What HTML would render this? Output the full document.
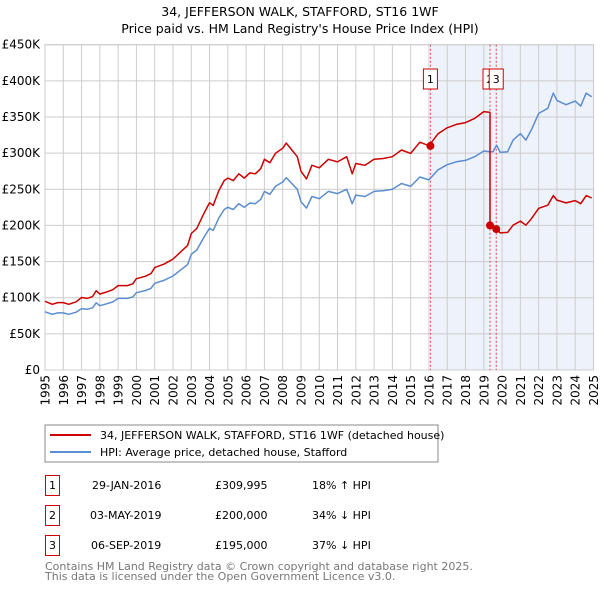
<!DOCTYPE html>
<html><head><meta charset="utf-8"><style>
body{margin:0;background:#fff;font-family:"DejaVu Sans","Liberation Sans",sans-serif;}
#wrap{position:relative;width:600px;height:590px;overflow:hidden;}
</style></head><body>
<div id="wrap">
<svg id="chart" width="600" height="590" xmlns="http://www.w3.org/2000/svg" font-family="DejaVu Sans, Liberation Sans, sans-serif">
<text x="300" y="16" text-anchor="middle" font-size="12.5">34, JEFFERSON WALK, STAFFORD, ST16 1WF</text>
<text x="300" y="33" text-anchor="middle" font-size="12.5">Price paid vs. HM Land Registry's House Price Index (HPI)</text>
<g id="grid"></g><g id="marks"></g><g id="axes"></g>
<rect x="45" y="425" width="393" height="37" fill="#fff" stroke="#888"/>
<line x1="50" y1="435" x2="91" y2="435" stroke="#cc0000" stroke-width="2"/>
<text x="100" y="439" font-size="11">34, JEFFERSON WALK, STAFFORD, ST16 1WF (detached house)</text>
<line x1="50" y1="452" x2="91" y2="452" stroke="#5b8dd0" stroke-width="2"/>
<text x="100" y="456" font-size="11">HPI: Average price, detached house, Stafford</text>
<g font-size="11">
<rect x="45.5" y="475.5" width="14" height="20" fill="#fff" stroke="#cc0000"/>
<text x="52.5" y="489" text-anchor="middle">1</text>
<text x="92" y="489">29-JAN-2016</text>
<text x="215" y="489">£309,995</text>
<text x="312" y="489">18% ↑ HPI</text>
<rect x="45.5" y="505.5" width="14" height="20" fill="#fff" stroke="#cc0000"/>
<text x="52.5" y="519" text-anchor="middle">2</text>
<text x="90" y="519">03-MAY-2019</text>
<text x="215" y="519">£200,000</text>
<text x="312" y="519">34% ↓ HPI</text>
<rect x="45.5" y="535.5" width="14" height="20" fill="#fff" stroke="#cc0000"/>
<text x="52.5" y="549" text-anchor="middle">3</text>
<text x="91" y="549">06-SEP-2019</text>
<text x="215" y="549">£195,000</text>
<text x="312" y="549">37% ↓ HPI</text>
</g>
<text x="45" y="570" font-size="11" fill="#777">Contains HM Land Registry data © Crown copyright and database right 2025.</text>
<text x="45" y="580" font-size="11" fill="#777">This data is licensed under the Open Government Licence v3.0.</text>
</svg>
</div>
<script>
const hpiYears=[1995.0,1995.4,1995.7,1996.0,1996.3,1996.7,1997.0,1997.3,1997.6,1997.8,1998.0,1998.3,1998.7,1999.0,1999.5,1999.8,2000.0,2000.5,2000.8,2001.0,2001.5,2002.0,2002.5,2002.8,2003.0,2003.3,2003.7,2004.0,2004.2,2004.5,2004.8,2005.0,2005.3,2005.6,2005.9,2006.2,2006.5,2006.8,2007.0,2007.3,2007.6,2008.0,2008.2,2008.5,2008.8,2009.0,2009.3,2009.6,2010.0,2010.5,2011.0,2011.5,2011.8,2012.0,2012.5,2013.0,2013.5,2014.0,2014.5,2015.0,2015.5,2016.0,2016.5,2017.0,2017.5,2018.0,2018.5,2019.0,2019.34,2019.5,2019.7,2019.9,2020.3,2020.6,2021.0,2021.3,2021.6,2022.0,2022.5,2022.8,2023.0,2023.5,2024.0,2024.3,2024.6,2024.9];
const hpiValues=[80.5,77,79,79,77,80,85,84,86,93,89,91,94,99,99,101,107,110,113,120,124,130,140,146,160,166,184,196,193,210,222,225,222,230,225,231,230,236,247,243,254,260,266,258,250,233,224,240,237,247,244,250,230,242,240,247,248,250,258,254,267,263,277,284,288,290,295,303,302,302,311,301,302,318,327,318,332,355,362,383,373,367,372,365,383,378];
const redYears=[1995.0,1995.4,1995.7,1996.0,1996.3,1996.7,1997.0,1997.3,1997.6,1997.8,1998.0,1998.3,1998.7,1999.0,1999.5,1999.8,2000.0,2000.5,2000.8,2001.0,2001.5,2002.0,2002.5,2002.8,2003.0,2003.3,2003.7,2004.0,2004.2,2004.5,2004.8,2005.0,2005.3,2005.6,2005.9,2006.2,2006.5,2006.8,2007.0,2007.3,2007.6,2008.0,2008.2,2008.5,2008.8,2009.0,2009.3,2009.6,2010.0,2010.5,2011.0,2011.5,2011.8,2012.0,2012.5,2013.0,2013.5,2014.0,2014.5,2015.0,2015.5,2016.0,2016.5,2017.0,2017.5,2018.0,2018.5,2019.0,2019.34,2019.34,2019.5,2019.68,2019.9,2020.3,2020.6,2021.0,2021.3,2021.6,2022.0,2022.5,2022.8,2023.0,2023.5,2024.0,2024.3,2024.6,2024.9];
const redValues=[95,90.9,93.2,93.2,90.9,94.4,100.3,99.1,101.5,109.7,105,107.4,110.9,116.8,116.8,119.2,126.3,129.8,133.3,141.6,146.3,153.4,165.2,172.3,188.8,195.9,217.1,231.3,227.7,247.8,262,265.5,262,271.4,265.5,272.6,271.4,278.5,291.5,286.7,299.7,306.8,313.9,304.4,295,274.9,264.3,283.2,279.7,291.5,287.9,295,271.4,285.6,283.2,291.5,292.6,295,304.4,299.7,315.1,310.3,326.9,335.1,339.8,342.2,348.1,357.5,356.4,200,198,195,189.6,190.3,200.3,206,200.3,209.2,223.7,228,241.3,235,231.2,234.4,230,241.3,238];
const saleYears=[2016.08,2019.34,2019.68];
const saleValues=[309.995,200,195];
const saleLabels=["1","2","3"];
const yTicks=[0,50,100,150,200,250,300,350,400,450];
const yTickLabels=["£0","£50K","£100K","£150K","£200K","£250K","£300K","£350K","£400K","£450K"];
const xTicks=[1995,1996,1997,1998,1999,2000,2001,2002,2003,2004,2005,2006,2007,2008,2009,2010,2011,2012,2013,2014,2015,2016,2017,2018,2019,2020,2021,2022,2023,2024,2025];

const L=45,R=593.5,T=44.7,B=370;
const X=y=>L+(y-1995)/30*(R-L);
const Y=v=>B-v/450*(B-T);
const NS="http://www.w3.org/2000/svg";
function mk(parent,tag,attrs){const e=document.createElementNS(NS,tag);for(const k in attrs)e.setAttribute(k,attrs[k]);parent.appendChild(e);return e;}
const grid=document.getElementById('grid'),marks=document.getElementById('marks'),axes=document.getElementById('axes');

const shade=mk(grid,'rect',{x:X(saleYears[0]),y:T,width:R-X(saleYears[0]),height:B-T,fill:'#eef2fb'});


yTicks.forEach((v,i)=>{
  const g=mk(grid,'line',{x1:L,x2:R,y1:Y(v),y2:Y(v),stroke:'#cccccc','stroke-width':1});
  
  
  const t=mk(axes,'text',{x:L-5,y:Y(v)+4,'text-anchor':'end','font-size':12});
  t.textContent=yTickLabels[i];
  
  
});
xTicks.forEach(yr=>{
  const g=mk(grid,'line',{x1:X(yr),x2:X(yr),y1:T,y2:B,stroke:'#cccccc','stroke-width':1});
  
  
  const t=mk(axes,'text',{x:0,y:0,'text-anchor':'end','font-size':12,transform:`translate(${X(yr)+4.5},${B+5}) rotate(-90)`});
  t.textContent=yr;
  
  
});
const frame=mk(grid,'rect',{x:L,y:T,width:R-L,height:B-T,fill:'none',stroke:'#cccccc'});



saleYears.forEach((yr,i)=>{
  const l=mk(marks,'line',{x1:X(yr),x2:X(yr),y1:T,y2:B,stroke:'#ee4444','stroke-width':1,'stroke-dasharray':'2,2'});
  
  
});

const pts=(xs,vs)=>xs.map((x,i)=>X(x).toFixed(1)+','+Y(vs[i]).toFixed(1)).join(' ');
const hp=mk(marks,'polyline',{points:pts(hpiYears,hpiValues),fill:'none',stroke:'#5b8dd0','stroke-width':1.5,'stroke-linejoin':'round'});


const rp=mk(marks,'polyline',{points:pts(redYears,redValues),fill:'none',stroke:'#cc0000','stroke-width':1.5,'stroke-linejoin':'round'});



saleYears.forEach((yr,i)=>{
  const c=mk(marks,'circle',{cx:X(yr),cy:Y(saleValues[i]),r:4,fill:'#cc0000'});
  
  
  const bx=X(yr)-7;
  const r=mk(marks,'rect',{x:bx,y:69,width:14,height:20,fill:'#fff',stroke:'#cc0000'});
  
  
  const t=mk(marks,'text',{x:X(yr),y:83,'text-anchor':'middle','font-size':11});
  t.textContent=saleLabels[i];
  
  
});
</script>
</body></html>
